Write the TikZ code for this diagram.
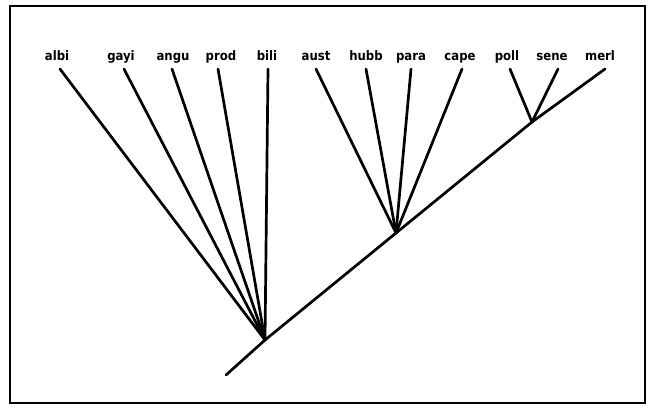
\documentclass[tikz,border=0pt]{standalone}
\usepackage{fontspec}
\newfontfamily\treefont{DejaVu Sans Condensed}
\tikzset{
  taxon/.style={font=\treefont\bfseries\fontsize{13}{14}\selectfont, anchor=base, inner sep=0pt},
  branch/.style={line width=2.7pt, line cap=round}
}

\begin{document}
\begin{tikzpicture}[x=1pt, y=-1pt]
  \useasboundingbox (0,0) rectangle (648,408);
  \draw[line width=1.3pt] (10,6) rectangle (645,403);
  % junctions on the main stem
  \coordinate (base) at (226,375);
  \coordinate (root) at (265,340);
  \coordinate (mid) at (396,233);
  \coordinate (upper) at (532,122);
  % taxa: name / label x / tip x
  \foreach \name/\x/\tx in {albi/57/60, gayi/121/124, angu/173/172, prod/221/218,
      bili/267/268, aust/316/316, hubb/366/366, para/411/411, cape/460/462,
      poll/507/510, sene/552/558, merl/600/605} {
    \node[taxon] (\name) at (\x,60) {\name};
    \coordinate (tip-\name) at (\tx,69);
  }
  \foreach \name in {albi, gayi, angu, prod, bili}
    \draw[branch] (tip-\name) -- (root);
  \foreach \name in {aust, hubb, para, cape}
    \draw[branch] (tip-\name) -- (mid);
  \foreach \name in {poll, sene}
    \draw[branch] (tip-\name) -- (upper);
  \draw[branch] (base) -- (root) -- (mid) -- (upper) -- (tip-merl);
\end{tikzpicture}
\end{document}
